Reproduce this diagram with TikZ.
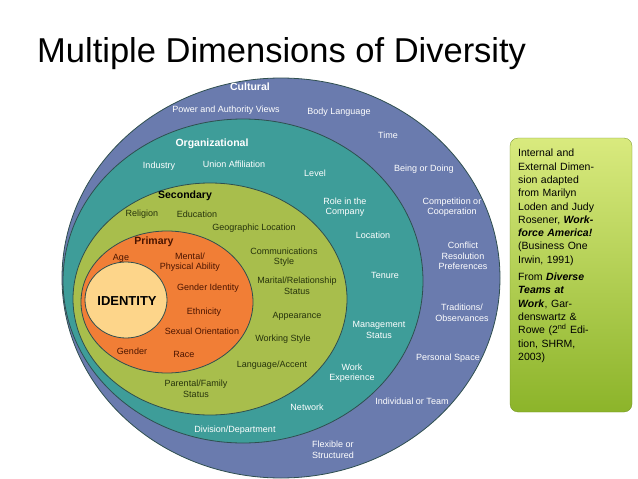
\documentclass[tikz,border=0pt]{standalone}
\usepackage{fontspec}
\setmainfont{Liberation Sans}
\definecolor{cult}{HTML}{6A7BAE}
\definecolor{org}{HTML}{3E9D99}
\definecolor{sec}{HTML}{A8BE4C}
\definecolor{prim}{HTML}{F17E36}
\definecolor{iden}{HTML}{FDD58A}
\definecolor{edge}{HTML}{2F4F4F}
\definecolor{dgreen}{HTML}{26330C}
\definecolor{dred}{HTML}{4A1400}
\definecolor{boxtop}{HTML}{D9EA7E}
\definecolor{boxbot}{HTML}{8CB42A}
\tikzset{
 ring/.style={draw=edge, line width=0.8pt},
 wl/.style={text=white, font=\fontsize{9}{10.5}\selectfont, align=center, inner sep=0pt},
 gl/.style={text=dgreen, font=\fontsize{9}{10.5}\selectfont, align=center, inner sep=0pt},
 ol/.style={text=dred, font=\fontsize{9}{10.5}\selectfont, align=center, inner sep=0pt},
 hd/.style={font=\bfseries\fontsize{10.5}{12}\selectfont, inner sep=0pt},
}
\begin{document}
\begin{tikzpicture}[x=1pt,y=-1pt]
\useasboundingbox (0,0) rectangle (638,479);
\node[anchor=base west, font=\fontsize{34.5}{38}\selectfont, inner sep=0pt] (title) at (37,62) {Multiple Dimensions of Diversity};
\draw[ring, fill=cult] (281,278) ellipse [x radius=219, y radius=200];
\draw[ring, fill=org] (243,281) ellipse [x radius=180, y radius=162];
\draw[ring, fill=sec] (210,299) ellipse [x radius=137, y radius=116];
\draw[ring, fill=prim] (167,302) ellipse [x radius=86, y radius=71];
\draw[ring, fill=iden] (126,300) ellipse [x radius=41, y radius=38];
% cultural
\node[hd, text=white] (cul) at (250,87) {Cultural};
\node[wl] (c1) at (226,110) {Power and Authority Views};
\node[wl] (c2) at (339,112) {Body Language};
\node[wl] (c3) at (388,135) {Time};
\node[wl] (c4) at (424,169) {Being or Doing};
\node[wl] (c5) at (452,207) {Competition or\\Cooperation};
\node[wl] (c6) at (463,256) {Conflict\\Resolution\\Preferences};
\node[wl] (c7) at (462,313) {Traditions/\\Observances};
\node[wl] (c8) at (448,358) {Personal Space};
\node[wl] (c9) at (412,401) {Individual or Team};
\node[wl] (c10) at (333,450) {Flexible or\\Structured};
% organizational
\node[hd, text=white] (orgh) at (212,144) {Organizational};
\node[wl] (o1) at (159,166) {Industry};
\node[wl] (o2) at (234,164) {Union Affiliation};
\node[wl] (o3) at (315,173) {Level};
\node[wl] (o4) at (345,207) {Role in the\\Company};
\node[wl] (o5) at (373,235) {Location};
\node[wl] (o6) at (385,275) {Tenure};
\node[wl] (o7) at (379,330) {Management\\Status};
\node[wl] (o8) at (352,373) {Work\\Experience};
\node[wl] (o9) at (307,407) {Network};
\node[wl] (o10) at (235,430) {Division/Department};
% secondary
\node[hd, text=black] (sech) at (185,196) {Secondary};
\node[gl] (s1) at (142,214) {Religion};
\node[gl] (s2) at (197,214) {Education};
\node[gl] (s3) at (254,228) {Geographic Location};
\node[gl] (s4) at (284,257) {Communications\\Style};
\node[gl] (s5) at (297,286) {Marital/Relationship\\Status};
\node[gl] (s6) at (297,316) {Appearance};
\node[gl] (s7) at (283,339) {Working Style};
\node[gl] (s8) at (272,365) {Language/Accent};
\node[gl] (s9) at (196,389) {Parental/Family\\Status};
% primary
\node[hd, text=dred] (primh) at (154,242) {Primary};
\node[ol] (p1) at (121,258) {Age};
\node[ol] (p2) at (190,262) {Mental/\\Physical Ability};
\node[ol] (p3) at (208,288) {Gender Identity};
\node[ol] (p4) at (204,312) {Ethnicity};
\node[ol] (p5) at (202,331) {Sexual Orientation};
\node[ol] (p6) at (132,351) {Gender};
\node[ol] (p7) at (184,354) {Race};
\node[font=\bfseries\fontsize{13}{14}\selectfont, inner sep=0pt] (id) at (127,301) {IDENTITY};
% side box
\shade[top color=boxtop, bottom color=boxbot, rounded corners=8pt, draw=boxbot!80!black, line width=0.3pt] (510,138) rectangle (632,412);
\node[anchor=north west, align=left, text width=76pt, inner sep=0pt, font=\fontsize{10.5}{13.3}\selectfont] (note) at (518,149) {Internal and External Dimension adapted from Marilyn Loden and Judy Rosener, \textbf{\textit{Workforce America!}} (Business One Irwin, 1991)\\[4pt]From \textbf{\textit{Diverse Teams at Work}}, Gardenswartz \& Rowe (2\textsuperscript{nd} Edition, SHRM, 2003)};
\end{tikzpicture}
\end{document}
